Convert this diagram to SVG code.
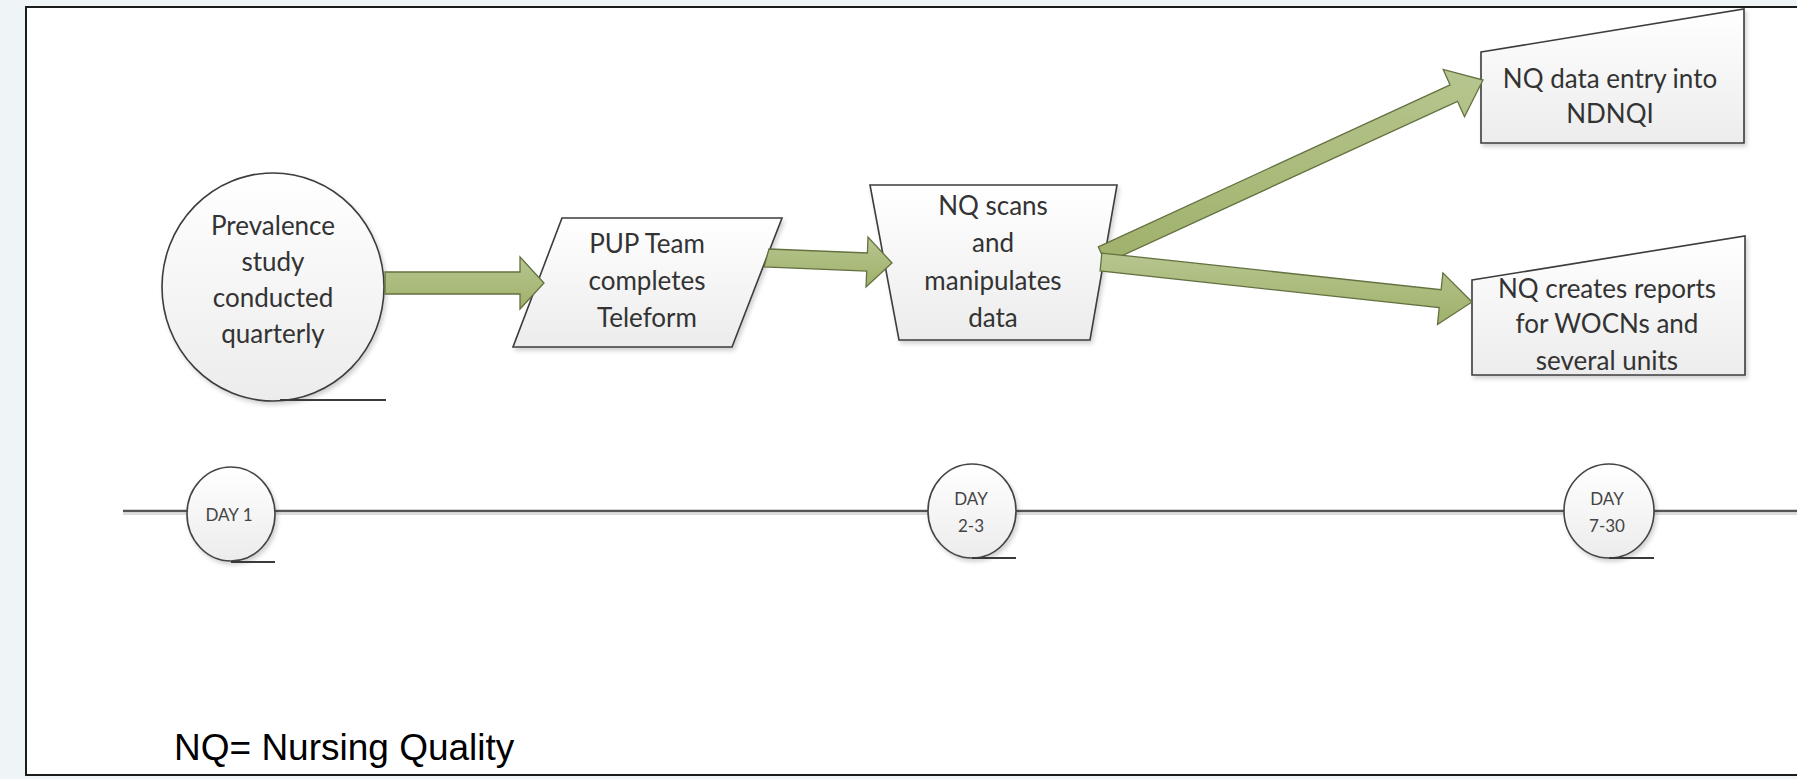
<svg xmlns="http://www.w3.org/2000/svg" width="1797" height="779" viewBox="0 0 1797 779">
  <defs>
    <linearGradient id="shapeFill" x1="0" y1="0" x2="0" y2="1">
      <stop offset="0" stop-color="#ffffff"/>
      <stop offset="1" stop-color="#ececec"/>
    </linearGradient>
    <linearGradient id="arrowFill" x1="0" y1="0" x2="0" y2="1">
      <stop offset="0" stop-color="#b7c68f"/>
      <stop offset="1" stop-color="#9fb16b"/>
    </linearGradient>
    <filter id="shadow" x="-10%" y="-10%" width="130%" height="130%">
      <feDropShadow dx="2" dy="3" stdDeviation="2" flood-color="#000000" flood-opacity="0.18"/>
    </filter>
  </defs>
  <style>
    .shape { fill: url(#shapeFill); stroke: #3c3c3c; stroke-width: 1.6; filter: url(#shadow); }
    .day { fill: url(#shapeFill); stroke: #444444; stroke-width: 1.6; filter: url(#shadow); }
    .uline { stroke: #3a3a3a; stroke-width: 2; fill: none; }
    .label { font-family: Lato, "Open Sans", sans-serif; font-size: 26px; fill: #333333; text-anchor: middle; }
    .daylabel { font-family: Lato, "Open Sans", sans-serif; font-size: 17px; fill: #444444; text-anchor: middle; }
    .arrow { fill: url(#arrowFill); stroke: #637140; stroke-width: 1.3; stroke-linejoin: miter; }
    .timeline { stroke: #555555; stroke-width: 2.5; fill: none; }
    .note { font-family: "Liberation Sans", Arial, sans-serif; font-size: 37px; fill: #000000; }
  </style>

  <!-- page background and frame -->
  <rect x="0" y="0" width="1797" height="779" fill="#eff4f7"/>
  <rect x="26" y="7" width="1800" height="768" fill="#ffffff" stroke="#1c1c1c" stroke-width="2"/>

  <!-- timeline -->
  <g id="timeline">
    <line x1="123" y1="514" x2="1797" y2="514" stroke="#dddddd" stroke-width="2"/>
    <line class="timeline" x1="123" y1="511" x2="1797" y2="511"/>
  </g>

  <!-- nodes -->
  <g id="prevalence">
    <ellipse class="shape" cx="273" cy="287" rx="111" ry="114"/>
    <line class="uline" x1="280" y1="400" x2="386" y2="400"/>
    <text class="label" x="273" y="235">Prevalence</text>
    <text class="label" x="273" y="271">study</text>
    <text class="label" x="273" y="307">conducted</text>
    <text class="label" x="273" y="343">quarterly</text>
  </g>

  <g id="pup-team">
    <polygon class="shape" points="562,218 782,218 732,347 513,347"/>
    <text class="label" x="647" y="253">PUP Team</text>
    <text class="label" x="647" y="290">completes</text>
    <text class="label" x="647" y="327">Teleform</text>
  </g>

  <g id="nq-scans">
    <polygon class="shape" points="870,185 1117,185 1090,340 899,340"/>
    <text class="label" x="993" y="215">NQ scans</text>
    <text class="label" x="993" y="252">and</text>
    <text class="label" x="993" y="290">manipulates</text>
    <text class="label" x="993" y="327">data</text>
  </g>

  <g id="nq-data-entry">
    <polygon class="shape" points="1481,52 1744,9 1744,143 1481,143"/>
    <text class="label" x="1610" y="88">NQ data entry into</text>
    <text class="label" x="1610" y="123">NDNQI</text>
  </g>

  <g id="nq-reports">
    <polygon class="shape" points="1472,280 1745,236 1745,375 1472,375"/>
    <text class="label" x="1607" y="298">NQ creates reports</text>
    <text class="label" x="1607" y="333">for WOCNs and</text>
    <text class="label" x="1607" y="370">several units</text>
  </g>

  <g id="day-1">
    <ellipse class="day" cx="231" cy="514" rx="44" ry="47"/>
    <line class="uline" x1="231" y1="562" x2="275" y2="562"/>
    <text class="daylabel" x="229" y="521">DAY 1</text>
  </g>

  <g id="day-2-3">
    <ellipse class="day" cx="972" cy="511" rx="44" ry="47"/>
    <line class="uline" x1="972" y1="558" x2="1016" y2="558"/>
    <text class="daylabel" x="971" y="505">DAY</text>
    <text class="daylabel" x="971" y="532">2-3</text>
  </g>

  <g id="day-7-30">
    <ellipse class="day" cx="1609" cy="511" rx="45" ry="47"/>
    <line class="uline" x1="1609" y1="558" x2="1654" y2="558"/>
    <text class="daylabel" x="1607" y="505">DAY</text>
    <text class="daylabel" x="1607" y="532">7-30</text>
  </g>

  <!-- connectors -->
  <g id="connectors">
    <polygon class="arrow" points="385,272 520,272 520,257 544,283 520,309 520,294 385,294"/>
    <polygon class="arrow" points="769,249 867.4,253 868,237 892,263 866,287 866.7,271 764,267"/>
    <polygon class="arrow" points="1098.3,246.8 1450.1,84.9 1443.2,69.4 1483,80 1464.5,116.8 1457.5,101.3 1105.7,263.2"/>
    <polygon class="arrow" points="1101.9,253.1 1441.1,289.7 1442.9,272.8 1472,302 1437.5,324.5 1439.2,307.6 1100.1,271"/>
  </g>

  <!-- footnote -->
  <text class="note" x="174" y="760">NQ= Nursing Quality</text>
</svg>
